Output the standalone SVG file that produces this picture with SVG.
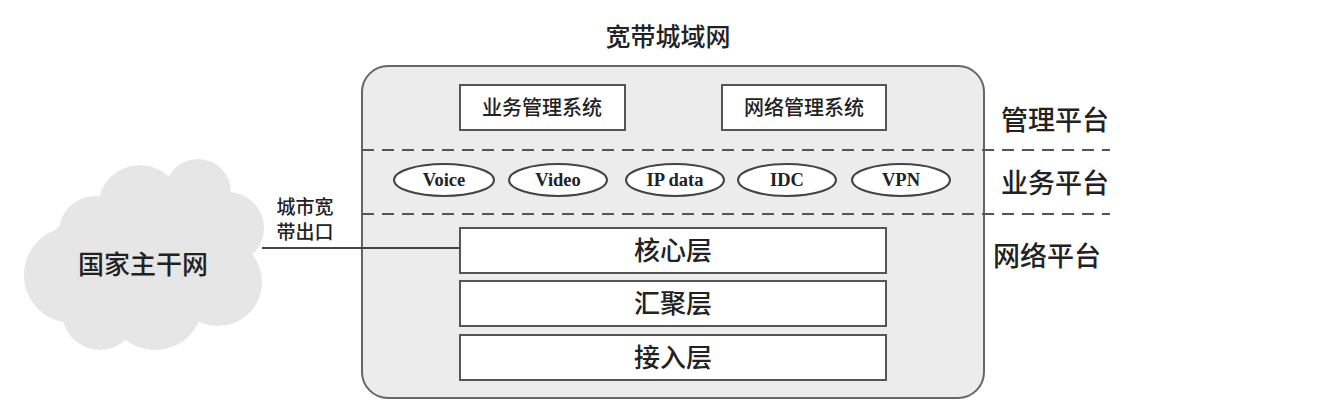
<svg xmlns="http://www.w3.org/2000/svg" width="1326" height="414" viewBox="0 0 1326 414">
<style>
.cjk{font-family:"Noto Sans CJK SC","Liberation Sans",sans-serif;fill:#222;text-anchor:middle;font-weight:500}
.en{font-family:"Liberation Serif",serif;font-weight:bold;fill:#222;text-anchor:middle;font-size:18.5px}
.box{fill:#fff;stroke:#555;stroke-width:2}
.ell{fill:#fff;stroke:#444;stroke-width:2}
.dash{stroke:#555;stroke-width:2;stroke-dasharray:12 8;fill:none}
.cloud{fill:#e6e6e6}
</style>
<rect width="1326" height="414" fill="#fff"/>
<g id="cloud">
<g class="cloud">
<ellipse cx="145" cy="262" rx="105" ry="62"/>
<circle cx="72" cy="275" r="48"/>
<circle cx="95" cy="232" r="36"/>
<circle cx="140" cy="207" r="42"/>
<circle cx="198" cy="192" r="33"/>
<circle cx="228" cy="228" r="36"/>
<circle cx="218" cy="282" r="44"/>
<circle cx="155" cy="302" r="48"/>
<circle cx="100" cy="312" r="38"/>
</g>
<text class="cjk" x="143" y="274" font-size="26">国家主干网</text>
</g>
<text class="cjk" x="668" y="46" font-size="25">宽带城域网</text>
<g id="frame">
<rect x="362" y="66" width="622" height="332" rx="26" fill="#ececec" stroke="#666" stroke-width="2"/>
</g>
<g id="mgmt-biz"><rect class="box" x="460" y="85" width="165" height="45"/><text class="cjk" x="542" y="115" font-size="20">业务管理系统</text></g>
<g id="mgmt-net"><rect class="box" x="722" y="85" width="164" height="45"/><text class="cjk" x="804" y="115" font-size="20">网络管理系统</text></g>
<g id="dividers">
<line class="dash" x1="362" y1="150" x2="1110" y2="150"/>
<line class="dash" x1="362" y1="214" x2="1110" y2="214"/>
</g>
<g id="voice"><ellipse class="ell" cx="444" cy="180" rx="50" ry="16"/><text class="en" x="444" y="186">Voice</text></g>
<g id="video"><ellipse class="ell" cx="558" cy="180" rx="49" ry="16"/><text class="en" x="558" y="186">Video</text></g>
<g id="ipdata"><ellipse class="ell" cx="675" cy="180" rx="49" ry="16"/><text class="en" x="675" y="186">IP data</text></g>
<g id="idc"><ellipse class="ell" cx="787" cy="180" rx="49" ry="16"/><text class="en" x="787" y="186">IDC</text></g>
<g id="vpn"><ellipse class="ell" cx="901" cy="180" rx="49" ry="16"/><text class="en" x="901" y="186">VPN</text></g>
<g id="core"><rect class="box" x="460" y="228" width="426" height="45"/><text class="cjk" x="673" y="260" font-size="26">核心层</text></g>
<g id="agg"><rect class="box" x="460" y="281" width="426" height="45"/><text class="cjk" x="673" y="313" font-size="26">汇聚层</text></g>
<g id="access"><rect class="box" x="460" y="335" width="426" height="45"/><text class="cjk" x="673" y="367" font-size="26">接入层</text></g>
<g id="labels">
<text class="cjk" x="1055" y="130" font-size="27">管理平台</text>
<text class="cjk" x="1055" y="193" font-size="27">业务平台</text>
<text class="cjk" x="1047" y="266" font-size="27">网络平台</text>
</g>
<g id="connectors">
<line x1="262" y1="248" x2="460" y2="248" stroke="#444" stroke-width="2"/>
<text class="cjk" x="305" y="214" font-size="19">城市宽</text>
<text class="cjk" x="305" y="239" font-size="19">带出口</text>
</g>
</svg>
